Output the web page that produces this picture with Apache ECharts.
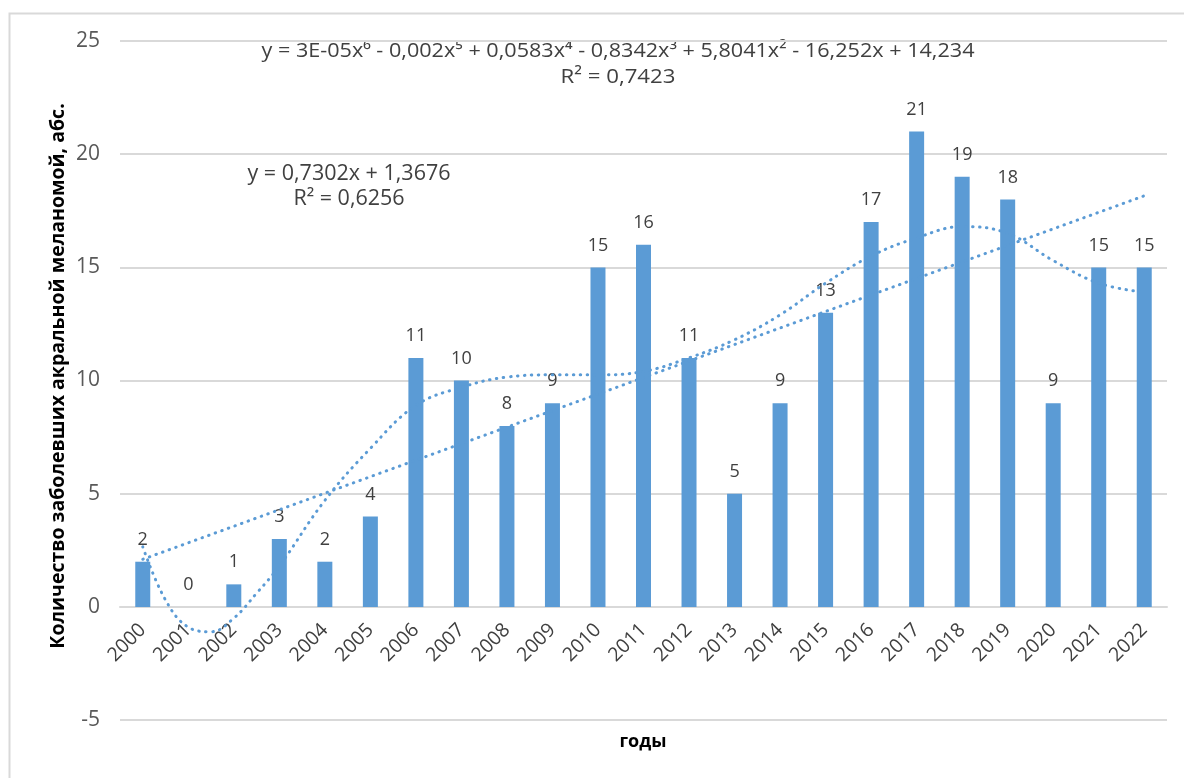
<!DOCTYPE html>
<html>
<head>
<meta charset="utf-8">
<script src="https://cdn.jsdelivr.net/npm/echarts@6/dist/echarts.min.js"></script>
<style>
  html, body { margin: 0; padding: 0; background: #fff; }
  #chart { width: 1184px; height: 778px; }
</style>
</head>
<body>
<div id="chart"></div>
<script>
// Years and annual case counts
const years = ['2000','2001','2002','2003','2004','2005','2006','2007','2008','2009','2010','2011',
               '2012','2013','2014','2015','2016','2017','2018','2019','2020','2021','2022'];
const cases = [2, 0, 1, 3, 2, 4, 11, 10, 8, 9, 15, 16, 11, 5, 9, 13, 17, 21, 19, 18, 9, 15, 15];

// Linear trend (x = year index, 1..23)
const linearTrend = [[1, 2.1], [23, 18.16]];

// Polynomial (6th degree) trend, sampled along the year index
const polyTrend = [
  [1, 2.65], [1.5, 0.3], [2, -0.9], [2.5, -1.1], [3, -0.5], [3.5, 0.6], [4, 1.8],
  [5, 4.7], [6, 7.0], [7, 8.9], [8, 9.7], [9, 10.15], [10, 10.25], [11, 10.25],
  [12, 10.4], [13, 11.0], [14, 11.8], [15, 12.9], [16, 14.3], [17, 15.5],
  [18, 16.3], [19, 16.8], [20, 16.5], [21, 15.3], [22, 14.3], [23, 13.9]
];

// Y axis range
const yMin = -5, yMax = 25, yStep = 5;

const polyEquation = 'y = 3E-05x⁶ - 0,002x⁵ + 0,0583x⁴ - 0,8342x³ + 5,8041x² - 16,252x + 14,234';
const polyR2 = 'R² = 0,7423';
const linEquation = 'y = 0,7302x + 1,3676';
const linR2 = 'R² = 0,6256';
const yTitle = 'Количество заболевших акральной меланомой, абс.';
const xTitle = 'годы';

const blue = '#5b9bd5';
const font = '"Open Sans", sans-serif';

// Plot box: full range (-5..25) and the part above zero where the bars and year labels sit
const plotLeft = 120, plotRight = 17, plotTop = 41, plotBottom = 58;
const zeroLineBottom = 171;

// The polynomial trend label sits in a condensed text box of fixed width
const eqFont = '20px "Open Sans"';
const measureCtx = document.createElement('canvas').getContext('2d');
measureCtx.font = eqFont;
const fitScale = (text, width) => width / measureCtx.measureText(text).width;
const eqScale = fitScale(polyEquation, 713);
const r2Scale = fitScale(polyR2, 115);

const chart = echarts.init(document.getElementById('chart'), null, { renderer: 'canvas' });

const dotted = { color: blue, width: 3, type: [0.5, 6.5], cap: 'round' };

chart.setOption({
  backgroundColor: '#ffffff',
  animation: false,
  textStyle: { fontFamily: font },
  grid: [
    { left: plotLeft, right: plotRight, top: plotTop, bottom: plotBottom, containLabel: false },
    { left: plotLeft, right: plotRight, top: plotTop, bottom: zeroLineBottom, containLabel: false }
  ],
  xAxis: [
    {
      type: 'value',
      gridIndex: 0,
      min: 0.5, max: 23.5,
      show: false
    },
    {
      type: 'category',
      gridIndex: 1,
      data: years,
      axisLine: { show: true, lineStyle: { color: '#d9d9d9', width: 2 } },
      axisTick: { show: false },
      axisLabel: {
        rotate: 45, color: '#404040', fontSize: 19.5, fontFamily: font, margin: 20, interval: 0
      },
      splitLine: { show: false }
    }
  ],
  yAxis: [
    {
      type: 'value',
      gridIndex: 0,
      min: yMin, max: yMax, interval: yStep,
      axisLine: { show: false },
      axisTick: { show: false },
      axisLabel: { color: '#595959', fontSize: 21, fontFamily: font, margin: 20 },
      splitLine: { show: true, lineStyle: { color: '#d9d9d9', width: 2 } }
    },
    {
      type: 'value',
      gridIndex: 1,
      min: 0, max: yMax,
      show: false
    }
  ],
  series: [
    {
      type: 'bar',
      data: cases,
      xAxisIndex: 1,
      yAxisIndex: 1,
      barWidth: 15,
      itemStyle: { color: blue },
      label: {
        show: true, position: 'top', distance: 13,
        color: '#404040', fontSize: 18, fontFamily: font
      },
      z: 2
    },
    {
      type: 'line',
      xAxisIndex: 0,
      yAxisIndex: 0,
      data: linearTrend,
      showSymbol: false,
      lineStyle: dotted,
      z: 3
    },
    {
      type: 'line',
      xAxisIndex: 0,
      yAxisIndex: 0,
      data: polyTrend,
      smooth: 0.4,
      showSymbol: false,
      lineStyle: dotted,
      z: 3
    }
  ],
  graphic: [
    {
      type: 'rect', left: 7, top: 11, silent: true,
      shape: { width: 1300, height: 900 },
      style: { fill: 'none', stroke: '#d9d9d9', lineWidth: 2 }
    },
    {
      type: 'text', x: 618, y: 51, scaleX: eqScale, silent: true,
      style: {
        text: polyEquation, fill: '#404040', font: eqFont,
        align: 'center', verticalAlign: 'middle'
      }
    },
    {
      type: 'text', x: 618, y: 77, scaleX: r2Scale, silent: true,
      style: {
        text: polyR2, fill: '#404040', font: eqFont,
        align: 'center', verticalAlign: 'middle'
      }
    },
    {
      type: 'text', x: 349, y: 174, silent: true,
      style: {
        text: linEquation, fill: '#404040', font: '21.5px "Open Sans"',
        align: 'center', verticalAlign: 'middle'
      }
    },
    {
      type: 'text', x: 349, y: 199, silent: true,
      style: {
        text: linR2, fill: '#404040', font: '21.5px "Open Sans"',
        align: 'center', verticalAlign: 'middle'
      }
    },
    {
      type: 'text', x: 58, y: 376, rotation: Math.PI / 2, silent: true,
      style: {
        text: yTitle, fill: '#000000', font: 'bold 19.5px "Open Sans"',
        align: 'center', verticalAlign: 'middle'
      }
    },
    {
      type: 'text', x: 643, y: 742, silent: true,
      style: {
        text: xTitle, fill: '#000000', font: 'bold 18px "Open Sans"',
        align: 'center', verticalAlign: 'middle'
      }
    }
  ]
});
</script>
</body>
</html>
